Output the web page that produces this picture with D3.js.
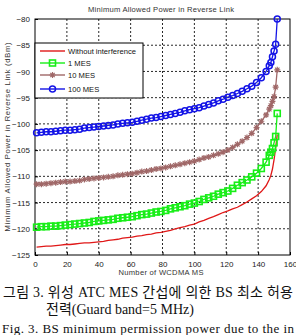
<!DOCTYPE html>
<script src="https://d3js.org/d3.v7.min.js"></script>
<style>
body { margin: 0; background: #fff; }
</style>
<body>
<script>
var nMs = [1,4,7,10,13,16,19,22,25,28,31,34,37,40,43,46,49,52,55,58,61,64,67,70,73,76,79,82,85,88,91,94,97,100,
  103,106,109,112,115,118,121,124,127,130,133,136,139,142,145,147,148,149,150,151,152];

var noInterf = [-123.5,-123.4,-123.3,-123.3,-123.2,-123.1,-123.0,-123.0,-122.9,-122.8,-122.7,-122.7,-122.6,-122.5,
  -122.4,-122.2,-122.1,-122.0,-121.8,-121.7,-121.6,-121.4,-121.3,-121.1,-121.0,-120.8,-120.7,-120.5,-120.3,-120.0,
  -119.8,-119.6,-119.3,-119.1,-118.7,-118.4,-118.0,-117.7,-117.3,-116.9,-116.6,-116.2,-115.9,-115.4,-114.9,-114.3,
  -113.7,-112.9,-111.8,-110.6,-109.8,-108.6,-106.8,-104.6,-102.0];

var mes1 = [-119.7,-119.6,-119.6,-119.5,-119.5,-119.4,-119.3,-119.2,-119.1,-119.0,-118.9,-118.8,-118.6,-118.5,
  -118.4,-118.3,-118.2,-118.0,-117.9,-117.8,-117.7,-117.5,-117.3,-117.2,-117.0,-116.8,-116.7,-116.5,-116.2,-116.0,
  -115.8,-115.6,-115.3,-115.1,-114.8,-114.4,-114.1,-113.8,-113.4,-113.1,-112.8,-112.3,-111.7,-111.2,-110.7,-110.1,
  -109.4,-108.5,-107.3,-106.0,-105.4,-104.7,-103.6,-102.4,-98.0];

var mes10 = [-111.5,-111.5,-111.4,-111.3,-111.2,-111.1,-111.0,-111.0,-110.9,-110.8,-110.6,-110.5,-110.4,-110.3,
  -110.2,-110.1,-110.0,-109.8,-109.7,-109.6,-109.5,-109.3,-109.1,-109.0,-108.8,-108.6,-108.5,-108.3,-108.1,-107.9,
  -107.7,-107.5,-107.3,-107.1,-106.8,-106.5,-106.3,-106.0,-105.7,-105.4,-105.0,-104.5,-103.9,-103.3,-102.6,-101.8,
  -100.7,-99.5,-98.3,-97.2,-96.5,-95.7,-94.8,-93.0,-89.7];

var mes100 = [-101.7,-101.6,-101.5,-101.5,-101.4,-101.3,-101.2,-101.2,-101.1,-101.0,-100.8,-100.7,-100.6,-100.5,
  -100.4,-100.3,-100.2,-100.0,-99.9,-99.8,-99.7,-99.5,-99.3,-99.1,-98.9,-98.8,-98.6,-98.4,-98.2,-98.0,
  -97.8,-97.5,-97.3,-97.1,-96.9,-96.6,-96.3,-96.0,-95.6,-95.3,-94.9,-94.6,-94.2,-93.8,-93.3,-92.8,
  -92.1,-91.2,-90.0,-88.9,-88.3,-87.2,-86.1,-84.8,-80.0];

var seriesNames = ["Without interference", "1 MES", "10 MES", "100 MES"];
var xTicks = [0,20,40,60,80,100,120,140,160];
var yTicks = [-125,-120,-115,-110,-105,-100,-95,-90,-85,-80];

var title = "Minimum Allowed Power in Reverse Link";
var xLabel = "Number of WCDMA MS";
var yLabel = "Minimum Allowed Power in Reverse Link (dBm)";
var caption = ["그림 3. 위성 ATC MES 간섭에 의한 BS 최소 허용",
  "전력(Guard band=5 MHz)",
  "Fig. 3. BS minimum permission power due to the in"];

var margin = {top: 19, right: 6, bottom: 80, left: 35};
var width = 296, height = 335;

var x = d3.scaleLinear().domain([0, 160]).range([margin.left, width - margin.right]);
var y = d3.scaleLinear().domain([-125, -80]).range([255, margin.top]);

var series = [
  {name: seriesNames[0], values: noInterf, color: "#e01818", marker: "none"},
  {name: seriesNames[1], values: mes1, color: "#18ee18", marker: "square"},
  {name: seriesNames[2], values: mes10, color: "#a06868", marker: "star"},
  {name: seriesNames[3], values: mes100, color: "#1414e6", marker: "circle"}
];

var svg = d3.select("body").append("svg")
  .attr("width", width)
  .attr("height", height)
  .style("font-family", "Arial, 'Liberation Sans', sans-serif");

var x0 = x(0), x1 = x(160), y0 = y(-125), y1 = y(-80);

// grid
var grid = svg.append("g")
  .attr("stroke", "#111")
  .attr("stroke-width", 0.9)
  .attr("stroke-dasharray", "2,2");
grid.selectAll("line.v").data(xTicks.slice(1, -1)).join("line")
  .attr("x1", d => x(d)).attr("x2", d => x(d))
  .attr("y1", y1).attr("y2", y0);
grid.selectAll("line.h").data(yTicks.slice(1, -1)).join("line")
  .attr("x1", x0).attr("x2", x1)
  .attr("y1", d => y(d)).attr("y2", d => y(d));

// axes with inward ticks
svg.append("g")
  .attr("transform", "translate(0," + y0 + ")")
  .call(d3.axisBottom(x).tickValues(xTicks).tickSize(-3).tickPadding(6))
  .call(g => g.select(".domain").remove())
  .selectAll("text").attr("font-size", 8).attr("fill", "#222");
svg.append("g")
  .attr("transform", "translate(" + x0 + ",0)")
  .call(d3.axisLeft(y).tickValues(yTicks).tickSize(-3).tickPadding(5))
  .call(g => g.select(".domain").remove())
  .selectAll("text").attr("font-size", 8).attr("fill", "#222");

svg.append("rect")
  .attr("x", x0).attr("y", y1)
  .attr("width", x1 - x0).attr("height", y0 - y1)
  .attr("fill", "none").attr("stroke", "#000").attr("stroke-width", 1);

var plot = svg.append("g");

var line = d3.line()
  .x((d, i) => x(nMs[i]))
  .y(d => y(d));

function drawMarker(g, type, color) {
  if (type === "square") {
    g.append("rect").attr("x", -3).attr("y", -3).attr("width", 6).attr("height", 6)
      .attr("fill", "none").attr("stroke", color).attr("stroke-width", 1.6);
  } else if (type === "circle") {
    g.append("circle").attr("r", 3)
      .attr("fill", "none").attr("stroke", color).attr("stroke-width", 1.5);
  } else if (type === "star") {
    g.append("path").attr("d", "M-3,0H3M0,-3V3M-2.2,-2.2L2.2,2.2M-2.2,2.2L2.2,-2.2")
      .attr("stroke", color).attr("stroke-width", 1.2);
  }
}

series.forEach(function(s) {
  plot.append("path")
    .attr("d", line(s.values))
    .attr("fill", "none")
    .attr("stroke", s.color)
    .attr("stroke-width", 1.3);
  if (s.marker !== "none") {
    plot.selectAll(null).data(s.values).join("g")
      .attr("transform", (d, i) => "translate(" + x(nMs[i]) + "," + y(d) + ")")
      .each(function() { drawMarker(d3.select(this), s.marker, s.color); });
  }
});

// legend
var legend = svg.append("g").attr("transform", "translate(" + x0 + ",43)");
legend.append("rect")
  .attr("width", 108).attr("height", 55)
  .attr("fill", "#fff").attr("stroke", "#000").attr("stroke-width", 1);
var item = legend.selectAll("g.item").data(series).join("g")
  .attr("transform", (d, i) => "translate(0," + [8, 20, 32, 46][i] + ")");
item.append("line")
  .attr("x1", 5).attr("x2", 30)
  .attr("stroke", d => d.color).attr("stroke-width", 1.4);
item.each(function(d) {
  var g = d3.select(this).append("g").attr("transform", "translate(17.5,0)");
  drawMarker(g, d.marker, d.color);
});
item.append("text")
  .attr("x", 33).attr("dy", "0.35em")
  .attr("font-size", 7.6).attr("fill", "#111")
  .text(d => d.name);

// titles
svg.append("text")
  .attr("x", 161).attr("y", 12)
  .attr("text-anchor", "middle")
  .attr("font-size", 7.6).attr("fill", "#333")
  .attr("textLength", 146).attr("lengthAdjust", "spacing")
  .text(title);
svg.append("text")
  .attr("x", 161).attr("y", 275)
  .attr("text-anchor", "middle")
  .attr("font-size", 7.6).attr("fill", "#333")
  .attr("textLength", 85).attr("lengthAdjust", "spacing")
  .text(xLabel);
svg.append("text")
  .attr("transform", "translate(10,137) rotate(-90)")
  .attr("text-anchor", "middle")
  .attr("font-size", 7.6).attr("fill", "#333")
  .attr("textLength", 189).attr("lengthAdjust", "spacing")
  .text(yLabel);

// caption
var cap = svg.append("g")
  .style("font-family", "'Liberation Serif', 'Times New Roman', 'Noto Sans CJK KR', serif")
  .attr("fill", "#111");
cap.append("text").attr("x", 3).attr("y", 297).attr("font-size", 14)
  .attr("textLength", 290).attr("lengthAdjust", "spacing").text(caption[0]);
cap.append("text").attr("x", 46).attr("y", 314).attr("font-size", 14)
  .text(caption[1]);
cap.append("text").attr("x", 2).attr("y", 333).attr("font-size", 13)
  .attr("textLength", 292).attr("lengthAdjust", "spacing").text(caption[2]);
</script>
</body>
